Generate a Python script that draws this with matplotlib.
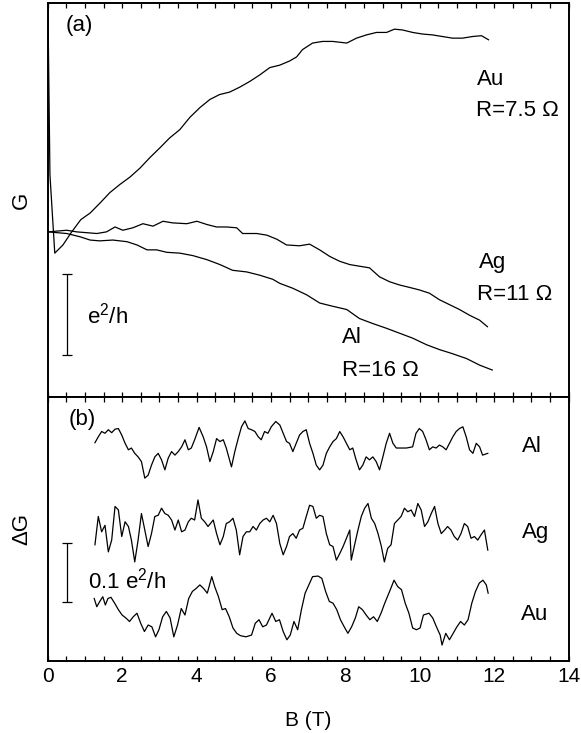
import matplotlib
matplotlib.use("Agg")
import matplotlib.pyplot as plt
from matplotlib.ticker import MultipleLocator

plt.rcParams["font.family"] = ["Liberation Sans", "DejaVu Sans"]
plt.rcParams["mathtext.default"] = "regular"

# ---- panel (a): G(B) in units of e^2/h, relative to G(0)
au_b = [0.00, 0.06, 0.19, 0.41, 0.63, 0.89, 1.14, 1.40, 1.67, 1.94, 2.21, 2.48,
        2.75, 3.02, 3.28, 3.55, 3.82, 4.09, 4.36, 4.62, 4.89, 5.16, 5.43, 5.70, 5.97,
        6.24, 6.50, 6.69, 6.85, 7.12, 7.39, 7.66, 8.04, 8.30, 8.57, 8.84, 9.11, 9.32,
        9.54, 9.81, 10.08, 10.34, 10.61, 10.88, 11.15, 11.42, 11.66, 11.85]
au_g = [3.00, 0.70, -0.26, -0.16, -0.01, 0.15, 0.23, 0.35, 0.48, 0.58, 0.67, 0.78,
        0.91, 1.03, 1.15, 1.25, 1.40, 1.52, 1.62, 1.68, 1.71, 1.77, 1.84, 1.92, 2.01,
        2.04, 2.09, 2.14, 2.23, 2.31, 2.33, 2.33, 2.31, 2.37, 2.41, 2.44, 2.44, 2.48,
        2.47, 2.44, 2.42, 2.41, 2.39, 2.37, 2.37, 2.39, 2.40, 2.35]

ag_b = [0.01, 0.51, 0.78, 1.05, 1.32, 1.58, 1.81, 2.02, 2.29, 2.56, 2.83, 3.10, 3.36,
        3.74, 4.01, 4.28, 4.54, 4.81, 5.08, 5.24, 5.62, 5.89, 6.16, 6.42, 6.77, 7.04,
        7.31, 7.58, 7.85, 8.12, 8.38, 8.65, 8.92, 9.19, 9.46, 9.73, 9.99, 10.26, 10.53,
        10.80, 11.07, 11.34, 11.61, 11.82]
ag_g = [0.00, 0.02, 0.00, -0.01, -0.02, 0.00, 0.06, 0.02, 0.05, 0.10, 0.07, 0.13, 0.11,
        0.10, 0.13, 0.09, 0.06, 0.06, 0.05, -0.02, -0.02, -0.04, -0.09, -0.16, -0.17,
        -0.15, -0.22, -0.30, -0.36, -0.40, -0.42, -0.44, -0.55, -0.61, -0.65, -0.68,
        -0.71, -0.75, -0.83, -0.89, -0.95, -1.02, -1.08, -1.16]

al_b = [0.01, 0.51, 0.87, 1.14, 1.40, 1.75, 2.13, 2.40, 2.67, 2.93, 3.20, 3.55, 3.90,
        4.28, 4.63, 4.97, 5.35, 5.70, 6.05, 6.24, 6.59, 6.96, 7.31, 7.66, 8.04, 8.38,
        8.73, 9.11, 9.46, 9.81, 10.18, 10.53, 10.88, 11.26, 11.61, 11.95]
al_g = [0.00, -0.02, -0.06, -0.10, -0.11, -0.10, -0.12, -0.16, -0.22, -0.22, -0.25,
        -0.26, -0.29, -0.34, -0.40, -0.47, -0.49, -0.53, -0.58, -0.63, -0.69, -0.77,
        -0.87, -0.91, -0.95, -1.06, -1.12, -1.18, -1.24, -1.30, -1.38, -1.44, -1.49,
        -1.55, -1.63, -1.69]

# ---- panel (b): fluctuations dG in units of 0.001 e^2/h
al_fb = [1.27, 1.36, 1.45, 1.54, 1.63, 1.72, 1.81, 1.90, 1.99, 2.08, 2.17, 2.25, 2.34,
         2.43, 2.52, 2.61, 2.70, 2.79, 2.88, 2.97, 3.06, 3.15, 3.24, 3.33, 3.42, 3.51,
         3.60, 3.69, 3.78, 3.86, 3.95, 4.07, 4.18, 4.27, 4.36, 4.45, 4.54, 4.63, 4.72,
         4.80, 4.94, 5.03, 5.12, 5.21, 5.30, 5.39, 5.48, 5.57, 5.66, 5.74, 5.83, 5.92,
         6.01, 6.13,
         6.24, 6.33, 6.42, 6.50, 6.59, 6.68, 6.77, 6.86, 6.95, 7.04, 7.13, 7.22, 7.31,
         7.40, 7.49, 7.58, 7.67, 7.76, 7.85, 7.94, 8.03, 8.12, 8.20, 8.29, 8.38, 8.47,
         8.56, 8.65, 8.74, 8.83, 8.92, 9.01, 9.10, 9.19, 9.28, 9.37, 9.46, 9.64, 9.81,
         9.90, 9.99, 10.08, 10.17, 10.26, 10.35, 10.44, 10.53, 10.62, 10.71, 10.80,
         10.89, 10.98, 11.07, 11.16, 11.25, 11.34, 11.43, 11.52, 11.61, 11.69, 11.83]
al_dg = [1, 11, 20, 17, 23, 18, 24, 25, 14, 0, -11, -8, -17, -23, -31, -59, -54, -37,
         -23, -17, -28, -45, -25, -14, -20, -14, -6, 6, -11, -8, 6, 27, 11, -6, -31,
         -14, 8, 3, 6, -8, -40, -14, 8, 28, 38, 25, 23, 20, 11, 6, 20, 17, 28, 37,
         31, 17, 3, 0, -14, 0, 14, 20, 23, 0, -17, -37, -45, -37, -17, -6, 3, 8, 20,
         11, 0, -11, -8, -28, -45, -37, -23, -28, -23, -31, -45, -23, 0, 17, 0, -8, -8,
         -8, -6, 17, 25, 20, 6, -11, -6, -8, -3, -6, -11, 0, 11, 20, 25, 28, 11, -11,
         -17, 0, -6, -20, -17]

ag_fb = [1.27, 1.36, 1.45, 1.54, 1.63, 1.72, 1.81, 1.90, 1.99, 2.08, 2.17, 2.25, 2.34,
         2.43, 2.52, 2.61, 2.70, 2.79, 2.88, 2.97, 3.06, 3.15, 3.24, 3.33, 3.42, 3.51,
         3.60, 3.69, 3.78, 3.86, 3.95, 4.04, 4.13, 4.22, 4.31, 4.45, 4.54, 4.63, 4.72,
         4.80, 4.89, 4.98, 5.07, 5.16, 5.25, 5.34, 5.43, 5.52, 5.61, 5.70, 5.79, 5.88,
         5.97, 6.06, 6.15,
         6.24, 6.33, 6.42, 6.50, 6.59, 6.68, 6.77, 6.86, 6.95, 7.04, 7.13, 7.22, 7.31,
         7.40, 7.49, 7.58, 7.67, 7.76, 7.85, 7.94, 8.03, 8.12, 8.16, 8.25, 8.34, 8.43,
         8.52, 8.61, 8.70, 8.79, 8.88, 8.97, 9.05, 9.14, 9.23, 9.32, 9.41, 9.50, 9.59,
         9.68, 9.77, 9.86, 9.95, 10.04, 10.13, 10.22, 10.31, 10.40, 10.49, 10.58,
         10.67, 10.75, 10.84, 10.93, 11.02, 11.11, 11.20, 11.29, 11.38, 11.47, 11.56,
         11.65, 11.74, 11.83]
ag_dg = [-25, 23, -3, 8, -37, -17, 40, 34, -11, 14, 6, -17, -54, -17, 28, 0, -28, -6,
         23, 25, 37, 28, 25, 17, 0, 17, -3, 0, 14, 20, 17, 51, 20, 14, 6, 17, -6, -25,
         -11, 11, 14, 20, 0, -42, -11, -3, -3, 6, 0, 11, 17, 20, 14, 25, 11,
         -23, -42, -28, -11, -6, -14, 0, 3, 23, 42, 40, 20, 25, 23, -6, -25, -28, -51,
         -40, -28, -14, 0, -51, -25, 0, 23, 37, 45, 20, 11, -6, -28, -54, -31, -25, 11,
         17, 23, 37, 31, 34, 23, 45, 34, 6, 14, 28, 40, 11, -6, 0, 6, 0, -11, -17, -6,
         11, 6, -14, -11, -17, -8, 0, -34]

au_fb = [1.25, 1.32, 1.40, 1.48, 1.55, 1.62, 1.70, 1.80, 1.90, 2.00, 2.10, 2.20, 2.30,
         2.40, 2.50, 2.60, 2.70, 2.80, 2.90, 2.99, 3.09, 3.19, 3.29, 3.39, 3.49, 3.59,
         3.69, 3.79, 3.89, 3.99, 4.09, 4.19, 4.29, 4.41, 4.49, 4.59, 4.69, 4.78, 4.88,
         4.98, 5.08, 5.18, 5.33, 5.48, 5.58, 5.68, 5.78, 5.88, 6.03, 6.13, 6.23, 6.33,
         6.43, 6.52, 6.62, 6.72, 6.82, 6.92, 7.02, 7.12, 7.27, 7.37, 7.47, 7.57, 7.67,
         7.77, 7.87, 7.97, 8.07, 8.17, 8.27, 8.36, 8.46, 8.56, 8.66, 8.76, 8.86, 8.96,
         9.06, 9.21, 9.31, 9.41, 9.51, 9.61, 9.71, 9.81, 9.91, 10.01, 10.10, 10.25,
         10.35, 10.45, 10.55, 10.60, 10.70, 10.80, 10.90, 11.00, 11.10, 11.20, 11.30,
         11.40, 11.50, 11.60, 11.70, 11.79, 11.84]
au_dg = [25, 11, 20, 28, 14, 25, 27, 17, 6, -3, -8, -14, -6, 0, -17, -31, -20, -23, -40,
         -28, -6, 3, -8, -40, -20, 8, -3, 25, 37, 42, 48, 42, 34, 62, 45, 28, 6, 8, -6,
         -25, -34, -38, -40, -37, -17, -11, -23, -20, 0, -14, -11, -31, -45, -37, -14,
         -28, 6, 34, 48, 62, 63, 59, 37, 20, 17, 6, -11, -23, -34, -23, -8, 11, 6, -3,
         -11, -6, -14, 0, 17, 40, 56, 45, 40, 17, 0, -25, -28, -25, -3, 0, -8, -23, -37,
         -54, -34, -45, -34, -23, -14, -20, -11, 17, 37, 51, 56, 48, 34]

fig = plt.figure(figsize=(5.81, 7.33), dpi=100)
ax_a = fig.add_axes([0.0821, 0.4584, 0.8964, 0.5375])
ax_b = fig.add_axes([0.0821, 0.0982, 0.8964, 0.3602])

lw = 0.9
ax_a.plot(au_b, au_g, color="black", lw=lw)
ax_a.plot(ag_b, ag_g, color="black", lw=lw)
ax_a.plot(al_b, al_g, color="black", lw=lw)
ax_a.set_ylim(-2.02, 2.80)

# trace offsets in panel (b)
off_al, off_ag, off_au = 369, 222, 81
ax_b.plot(al_fb, [v + off_al for v in al_dg], color="black", lw=lw)
ax_b.plot(ag_fb, [v + off_ag for v in ag_dg], color="black", lw=lw)
ax_b.plot(au_fb, [v + off_au for v in au_dg], color="black", lw=lw)
ax_b.set_ylim(0, 447.5)

for ax in (ax_a, ax_b):
    ax.set_xlim(0, 14)
    ax.xaxis.set_major_locator(MultipleLocator(2))
    ax.xaxis.set_minor_locator(MultipleLocator(0.5))
    ax.tick_params(axis="x", which="both", direction="in", top=True, bottom=True,
                   length=3.5, width=0.9, labelsize=15, pad=4)
    ax.set_yticks([])
    for sp in ax.spines.values():
        sp.set_linewidth(1.4)
ax_a.tick_params(axis="x", labelbottom=False)

# scale bars
ax_a.errorbar([0.51], [-1.01], yerr=[[0.5], [0.5]], color="black", lw=0.9,
              capsize=3.5, capthick=0.9)
ax_b.errorbar([0.51], [150.5], yerr=[[50], [50]], color="black", lw=0.9,
              capsize=3.5, capthick=0.9)

fs = 16
ax_a.text(0.84, 2.53, "(a)", fontsize=fs, ha="center", va="center")
ax_a.text(11.55, 1.86, "Au", fontsize=fs, va="center")
ax_a.text(11.52, 1.49, "R=7.5 \u03a9", fontsize=fs, va="center")
ax_a.text(11.58, -0.37, "Ag", fontsize=fs, va="center")
ax_a.text(11.55, -0.76, "R=11 \u03a9", fontsize=fs, va="center")
ax_a.text(7.90, -1.29, "Al", fontsize=fs, va="center")
ax_a.text(7.90, -1.70, "R=16 \u03a9", fontsize=fs, va="center")
ax_a.text(1.06, -1.02, "e$^2$/h", fontsize=fs, va="center")

ax_b.text(0.92, 410, "(b)", fontsize=fs, ha="center", va="center")
ax_b.text(12.76, 363, "Al", fontsize=fs, va="center")
ax_b.text(12.76, 217, "Ag", fontsize=fs, va="center")
ax_b.text(12.73, 78, "Au", fontsize=fs, va="center")
ax_b.text(1.08, 137, "0.1 e$^2$/h", fontsize=fs, va="center")

ax_a.set_ylabel("G", fontsize=16)
ax_a.yaxis.set_label_coords(-0.03, 0.5)
ax_b.set_ylabel("\u0394G", fontsize=16)
ax_b.yaxis.set_label_coords(-0.03, 0.5)
ax_b.set_xlabel("B (T)", fontsize=15)
ax_b.xaxis.set_label_coords(0.5, -0.19)

fig.savefig("out.png", dpi=100)
